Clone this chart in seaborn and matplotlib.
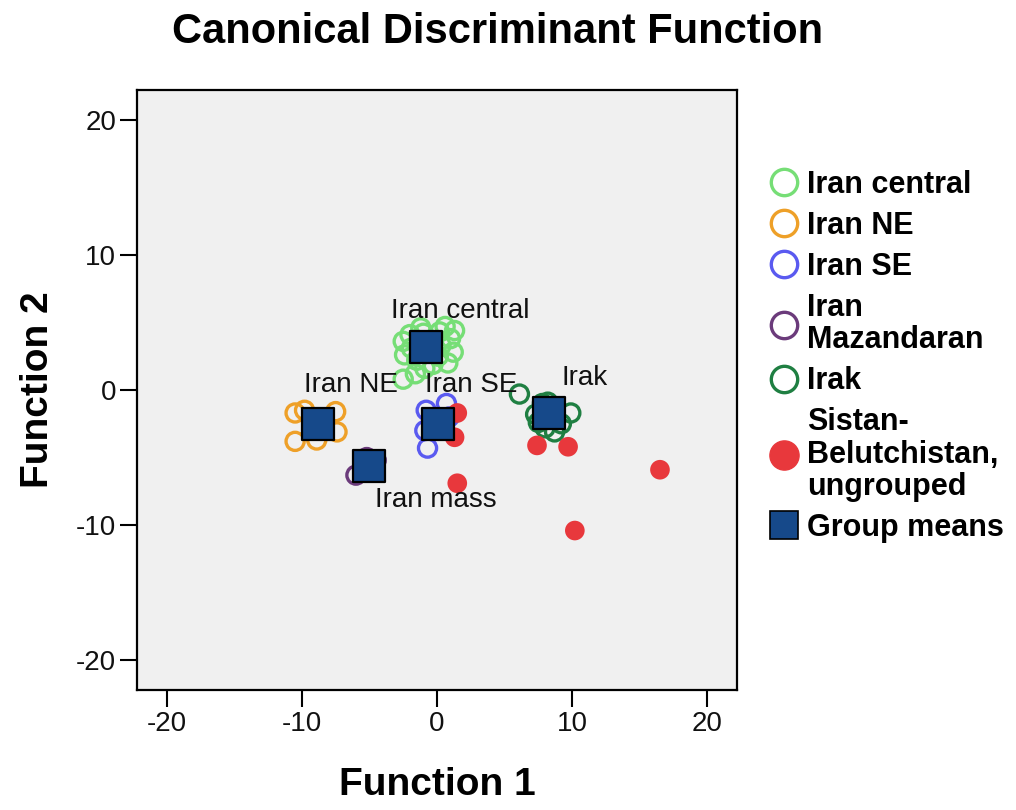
import matplotlib
matplotlib.use("Agg")
import matplotlib.pyplot as plt
import numpy as np
import pandas as pd
import seaborn as sns
from matplotlib.lines import Line2D


DPI = 100

# canonical scores
central_x = [-2.5, -2.0, -1.0, 0.2, 1.0, 1.2, 0.8, -0.3, -1.5, -2.4, -1.6, -2.5,
             -0.6, 0.3, 1.3, 0.6, -1.9, -0.9, 0.1, -1.2]
central_y = [3.6, 4.1, 4.2, 4.3, 3.8, 2.8, 2.0, 1.9, 2.2, 2.6, 1.2, 0.8,
             3.0, 3.3, 4.4, 4.7, 3.1, 1.6, 2.5, 4.6]
ne_x = [-10.5, -7.5, -10.5, -8.9, -7.4, -9.8, -8.5]
ne_y = [-1.7, -1.6, -3.8, -3.7, -3.1, -1.5, -2.4]
se_x = [-0.7, -0.9, -0.8, 0.7, 0.4, 0.9]
se_y = [-4.3, -3.0, -1.5, -1.0, -2.4, -2.0]
maz_x = [-6.0, -4.5, -5.2]
maz_y = [-6.3, -5.2, -5.0]
irak_x = [6.1, 8.2, 9.9, 8.7, 7.3, 9.2, 7.8, 8.6, 7.5, 8.0]
irak_y = [-0.3, -0.9, -1.7, -3.1, -1.8, -2.5, -1.0, -1.2, -2.4, -2.8]
sistan_x = [1.5, 1.3, 1.5, 7.4, 9.7, 16.5, 10.2]
sistan_y = [-1.7, -3.5, -6.9, -4.1, -4.2, -5.9, -10.4]

mean_names = ["Iran central", "Iran NE", "Iran SE", "Iran mass", "Irak"]
mean_x = [-0.8, -8.8, 0.1, -5.0, 8.3]
mean_y = [3.2, -2.5, -2.5, -5.6, -1.7]

groups = ["Iran central", "Iran NE", "Iran SE", "Iran Mazandaran", "Irak"]
colors = {
    "Iran central": "#76de76",
    "Iran NE": "#eea028",
    "Iran SE": "#5a5af0",
    "Iran Mazandaran": "#6b3b7b",
    "Irak": "#1f7f42",
}
red = "#e8383c"
navy = "#16498a"

scores = pd.concat([
    pd.DataFrame({"f1": central_x, "f2": central_y, "group": "Iran central"}),
    pd.DataFrame({"f1": ne_x, "f2": ne_y, "group": "Iran NE"}),
    pd.DataFrame({"f1": se_x, "f2": se_y, "group": "Iran SE"}),
    pd.DataFrame({"f1": maz_x, "f2": maz_y, "group": "Iran Mazandaran"}),
    pd.DataFrame({"f1": irak_x, "f2": irak_y, "group": "Irak"}),
], ignore_index=True)
sistan = pd.DataFrame({"f1": sistan_x, "f2": sistan_y})
means = pd.DataFrame({"f1": mean_x, "f2": mean_y, "name": mean_names})

sns.set_style("white")
plt.rcParams["font.family"] = ["Liberation Sans", "DejaVu Sans"]
plt.rcParams["axes.unicode_minus"] = False
plt.rcParams["text.color"] = "black"

fig = plt.figure(figsize=(1016 / DPI, 810 / DPI), dpi=DPI)
ax = fig.add_axes([137 / 1016, 120 / 810, 600 / 1016, 600 / 810])
ax.set_facecolor("#f0f0f0")

for g in groups:
    sub = scores[scores["group"] == g]
    sns.scatterplot(
        data=sub, x="f1", y="f2", ax=ax, marker="o", s=170,
        facecolor="none", edgecolor=colors[g], linewidth=2.4, legend=False, zorder=3
    )

sns.scatterplot(
    data=sistan, x="f1", y="f2", ax=ax, marker="o", s=200,
    color=red, edgecolor="none", linewidth=0, legend=False, zorder=3
)

sns.scatterplot(
    data=means, x="f1", y="f2", ax=ax, marker="s", s=520,
    color=navy, edgecolor="black", linewidth=1.6, legend=False, zorder=5
)

# centroid labels, offset in pixels from each mean
offsets = {
    "Iran central": (34, 36),
    "Iran NE": (33, 39),
    "Iran SE": (33, 39),
    "Irak": (35, 35),
    "Iran mass": (66, -34),
}
for _, row in means.iterrows():
    ax.annotate(
        row["name"], (row["f1"], row["f2"]), xytext=offsets[row["name"]],
        textcoords="offset pixels", ha="center", va="center",
        fontsize=20, color="#111111", zorder=6
    )

ax.set_xlim(-22.2, 22.2)
ax.set_ylim(-22.2, 22.2)
ax.set_xticks([-20, -10, 0, 10, 20])
ax.set_yticks([-20, -10, 0, 10, 20])
ax.tick_params(axis="both", direction="out", length=12, width=1.5,
               labelsize=20, pad=3, color="black", labelcolor="#111111",
               bottom=True, left=True)
for sp in ax.spines.values():
    sp.set_color("black")
    sp.set_linewidth(1.6)

ax.set_xlabel("Function 1", fontsize=28, fontweight="bold", labelpad=22, color="black")
ax.set_ylabel("Function 2", fontsize=28, fontweight="bold", labelpad=14, color="black")

fig.text(498 / 1016, 1 - 32 / 810, "Canonical Discriminant Function",
         ha="center", va="center", fontsize=30, fontweight="bold", color="black")

handles = [
    Line2D([], [], ls="none", marker="o", markersize=19, markerfacecolor="none",
           markeredgecolor=colors[g], markeredgewidth=2.4)
    for g in groups
]
handles.append(Line2D([], [], ls="none", marker="o", markersize=21,
                      markerfacecolor=red, markeredgecolor=red))
handles.append(Line2D([], [], ls="none", marker="s", markersize=20,
                      markerfacecolor=navy, markeredgecolor="black",
                      markeredgewidth=1.2))
labels = ["Iran central", "Iran NE", "Iran SE", "Iran\nMazandaran", "Irak",
          "Sistan-\nBelutchistan,\nungrouped", "Group means"]

leg = fig.legend(
    handles, labels, loc="upper left", bbox_to_anchor=(766 / 1016, 1 - 170 / 810),
    frameon=False, prop={"family": "Liberation Sans", "weight": "bold", "size": 22},
    handlelength=1.2, handletextpad=0.15, labelspacing=0.36, borderpad=0,
    borderaxespad=0
)
for t in leg.get_texts():
    t.set_linespacing(1.1)
    t.set_color("black")

fig.savefig("out.png", dpi=DPI, facecolor="white")
